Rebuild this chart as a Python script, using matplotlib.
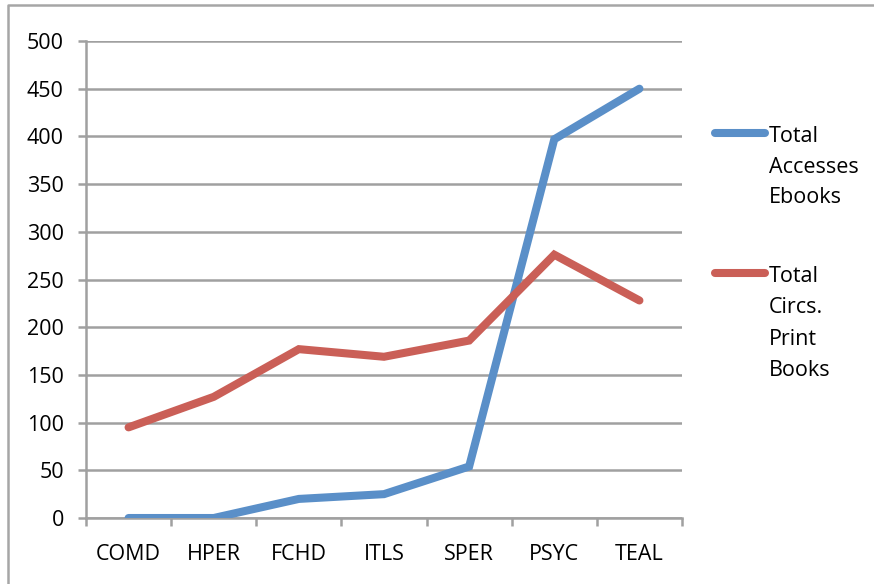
import matplotlib.pyplot as plt
from matplotlib.lines import Line2D

plt.rcParams['font.family'] = ['Open Sans', 'DejaVu Sans']

depts = ['COMD', 'HPER', 'FCHD', 'ITLS', 'SPER', 'PSYC', 'TEAL']
ebooks = [0, 0, 20, 25, 54, 397, 450]
print_books = [95, 127, 177, 169, 186, 276, 228]
y_ticks = [0, 50, 100, 150, 200, 250, 300, 350, 400, 450, 500]

blue = '#5A8FC8'
red = '#CA5F57'
grid = '#A0A0A0'

fig = plt.figure(figsize=(8.74, 5.84), dpi=100)
ax = fig.add_axes([86/874, 1-518/584, (682-86)/874, (518-41)/584])

x = list(range(len(depts)))
ax.plot(x, ebooks, color=blue, lw=5.8, solid_capstyle='round', solid_joinstyle='miter', zorder=3)
ax.plot(x, print_books, color=red, lw=5.8, solid_capstyle='round', solid_joinstyle='miter', zorder=3)

ax.set_xlim(-0.5, 6.5)
ax.set_ylim(0, 500)
ax.set_yticks(y_ticks)
ax.set_xticks(x)
ax.set_xticklabels(depts)
ax.set_xticks([i - 0.5 for i in range(len(depts) + 1)], minor=True)
ax.yaxis.grid(True, color=grid, lw=1.8)
ax.set_axisbelow(True)
for s in ['top', 'right']:
    ax.spines[s].set_visible(False)
for s in ['left', 'bottom']:
    ax.spines[s].set_color(grid)
    ax.spines[s].set_linewidth(1.8)
ax.tick_params(axis='y', length=6, width=1.8, color=grid, labelsize=15.5, pad=10)
ax.tick_params(axis='x', which='major', length=0, labelsize=15.5, pad=19)
ax.tick_params(axis='x', which='minor', length=6, width=1.8, color=grid)

# legend drawn by hand, Excel style
fig.add_artist(Line2D([715/874, 765/874], [1-133/584]*2, color=blue, lw=5.8, solid_capstyle='round'))
fig.text(769/874, 1-126/584, 'Total\nAccesses\nEbooks', fontsize=15.5, va='top', linespacing=1.6)
fig.add_artist(Line2D([715/874, 765/874], [1-273/584]*2, color=red, lw=5.8, solid_capstyle='round'))
fig.text(769/874, 1-266/584, 'Total\nCircs.\nPrint\nBooks', fontsize=15.5, va='top', linespacing=1.65)

# outer chart border
fig.add_artist(Line2D([8/874, 8/874, 1], [0, 1-5/584, 1-5/584], color='#A6A6A6', lw=1.8))

fig.savefig('out.png', dpi=100)
